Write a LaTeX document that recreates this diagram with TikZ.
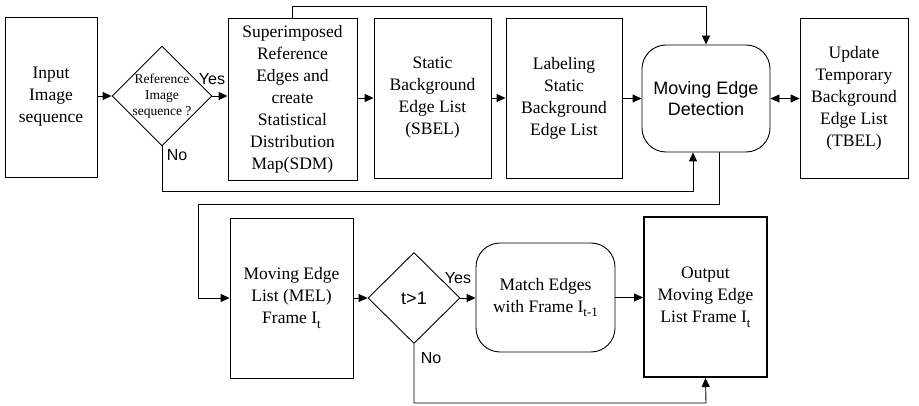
\documentclass[tikz,border=0pt]{standalone}
\usepackage{fontspec}
\setmainfont{Liberation Serif}
\newfontfamily\arialfam{Liberation Sans}
\usetikzlibrary{shapes.geometric,arrows.meta}
\newcommand\lowsub[1]{\raisebox{-0.6ex}{\fontsize{13}{13}\selectfont #1}}
\begin{document}
\begin{tikzpicture}[x=1pt,y=-1pt,
  blk/.style={draw,line width=0.9pt,inner sep=0pt,align=center,font=\fontsize{17.5}{22}\selectfont},
  rnd/.style={blk,rounded corners=24pt,font=\arialfam\fontsize{18}{21}\selectfont},
  dia/.style={draw,diamond,line width=0.9pt,inner sep=0pt},
  arr/.style={-{Triangle[length=9pt,width=8pt]},line width=0.9pt},
  darr/.style={{Triangle[length=9pt,width=8pt]}-{Triangle[length=9pt,width=8pt]},line width=0.9pt},
  lbl/.style={font=\arialfam\fontsize{16}{16}\selectfont,inner sep=0pt}]
\useasboundingbox (0,0) rectangle (919,406);
% top row
\node[blk,minimum width=92,minimum height=160] (in) at (51,97) {Input\\Image\\sequence};
\node[dia,minimum width=100,minimum height=100] (d1) at (162,96) {};
\node[align=center,inner sep=0pt,font=\fontsize{13.5}{16}\selectfont] (d1t) at (d1) {Reference\\Image\\sequence ?};
\node[blk,minimum width=129,minimum height=162] (sdm) at (292.5,99) {Superimposed\\Reference\\Edges and\\create\\Statistical\\Distribution\\Map(SDM)};
\node[blk,minimum width=117,minimum height=160] (sbel) at (432.5,98) {Static\\Background\\Edge List\\(SBEL)};
\node[blk,minimum width=116,minimum height=160] (lab) at (564,98) {Labeling\\Static\\Background\\Edge List};
\node[rnd,minimum width=128,minimum height=107] (med) at (706,98.5) {Moving Edge\\Detection};
\node[blk,minimum width=108,minimum height=160] (tbel) at (854,98) {Update\\Temporary\\Background\\Edge List\\(TBEL)};
% bottom row
\node[blk,minimum width=123,minimum height=160] (mel) at (291.5,298) {Moving Edge\\List (MEL)\\Frame I\lowsub{t}};
\node[dia,minimum width=92,minimum height=91] (d2) at (414,298) {};
\node[inner sep=0pt,font=\arialfam\fontsize{18}{18}\selectfont] (d2t) at (d2) {t>1};
\node[blk,rounded corners=24pt,minimum width=139,minimum height=109] (match) at (545.5,297.5) {Match Edges\\with Frame I\lowsub{t-1}};
\node[blk,line width=2pt,minimum width=123,minimum height=160] (out) at (705.5,297) {Output\\Moving Edge\\List Frame I\lowsub{t}};
% labels
\node[lbl] (yes1) at (212,79) {Yes};
\node[lbl] (no1) at (177,155) {No};
\node[lbl] (yes2) at (458,278) {Yes};
\node[lbl] (no2) at (431,358) {No};
% coordinates
\coordinate (t1) at (706,6);
\coordinate (n1) at (693,191);
\coordinate (m1) at (719,204);
\coordinate (m2) at (198,204);
\coordinate (n2) at (706,403);
% connectors
\draw[arr] (in.east |- d1) -- (d1.west);
\draw[arr] (d1.east) -- (sdm.west |- d1.east);
\draw[arr] (sdm.east |- sbel) -- (sbel.west);
\draw[arr] (sbel.east) -- (lab.west);
\draw[arr] (lab.east |- med) -- (med.west);
\draw[darr] (med.east) -- (tbel.west |- med.east);
\draw[arr] (sdm.north) |- (t1) -- (med.north);
\draw[arr] (d1.south) |- (n1) -- (n1 |- med.south);
\draw[arr] (m1 |- med.south) -- (m1) -- (m2) |- (mel.west);
\draw[arr] (mel.east) -- (d2.west);
\draw[arr] (d2.east) -- (match.west |- d2.east);
\draw[arr] (match.east) -- (out.west |- match.east);
\draw[arr] (d2.south) |- (n2) -- (out.south);
\end{tikzpicture}
\end{document}
